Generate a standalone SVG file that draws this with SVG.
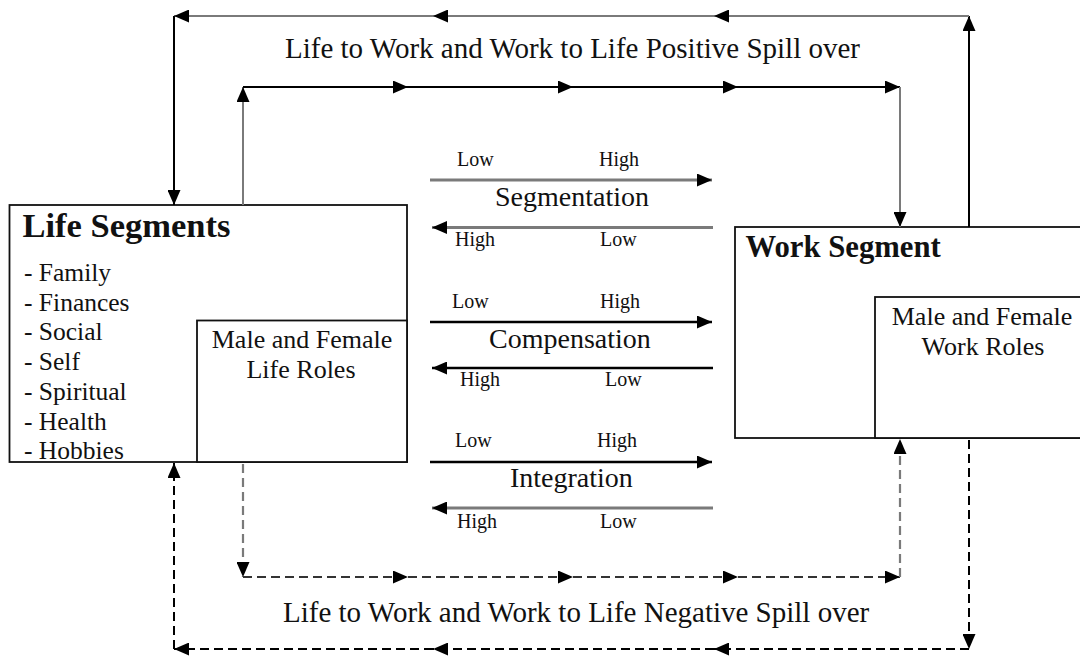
<svg xmlns="http://www.w3.org/2000/svg" width="1080" height="656" viewBox="0 0 1080 656">
<style>
text{font-family:"Liberation Serif","Times New Roman",serif;fill:#111}
.t28{font-size:28px}
.t29{font-size:29px}
.t26{font-size:26px}
.t25{font-size:25.5px}
.sm{font-size:20px}
.bold{font-weight:bold}
.box{fill:#fff;stroke:#111;stroke-width:1.8}
.k{stroke:#000;stroke-width:2;fill:none}
.g{stroke:#7a7a7a;stroke-width:2;fill:none}
.gk{stroke:#7a7a7a;stroke-width:2.8;fill:none}
.kk{stroke:#000;stroke-width:2.4;fill:none}
.dk{stroke:#000;stroke-width:2;fill:none;stroke-dasharray:9 5}
.dg{stroke:#7a7a7a;stroke-width:2.2;fill:none;stroke-dasharray:9 5}
.dm{stroke:#333;stroke-width:2;fill:none;stroke-dasharray:9 5}
</style>
<defs>
<marker id="ah" markerUnits="userSpaceOnUse" markerWidth="15" markerHeight="13" viewBox="0 0 15 13" refX="15" refY="6.5" orient="auto">
<path d="M0,0 L15,6.5 L0,13 z" fill="#000"/>
</marker>
</defs>
<rect width="1080" height="656" fill="#fff"/>

<g id="life-segments">
<rect class="box" x="9.5" y="205" width="397.5" height="257"/>
<text class="bold" x="22.5" y="236.5" style="font-size:34.5px">Life Segments</text>
<text class="t25" x="24" y="281">- Family</text>
<text class="t25" x="24" y="310.7">- Finances</text>
<text class="t25" x="24" y="340.4">- Social</text>
<text class="t25" x="24" y="370.1">- Self</text>
<text class="t25" x="24" y="399.8">- Spiritual</text>
<text class="t25" x="24" y="429.5">- Health</text>
<text class="t25" x="24" y="459.2">- Hobbies</text>
</g>
<g id="life-roles">
<rect class="box" x="197" y="320.5" width="210" height="141.5"/>
<text class="t26" x="302" y="348" text-anchor="middle">Male and Female</text>
<text class="t26" x="301" y="378" text-anchor="middle">Life Roles</text>
</g>

<g id="work-segment">
<rect class="box" x="735" y="227" width="350" height="211"/>
<text class="bold" x="745.5" y="256.5" style="font-size:30.7px">Work Segment</text>
</g>
<g id="work-roles">
<rect class="box" x="875" y="297" width="210" height="141"/>
<text class="t26" x="982" y="325" text-anchor="middle">Male and Female</text>
<text class="t26" x="983" y="355" text-anchor="middle">Work Roles</text>
</g>

<g id="segmentation">
<text class="sm" x="457" y="166">Low</text>
<text class="sm" x="599" y="166">High</text>
<text class="t28" x="495" y="206">Segmentation</text>
<text class="sm" x="455" y="246">High</text>
<text class="sm" x="600" y="246">Low</text>
</g>
<g id="compensation">
<text class="sm" x="452" y="308">Low</text>
<text class="sm" x="600" y="308">High</text>
<text class="t28" x="489" y="348">Compensation</text>
<text class="sm" x="460" y="386">High</text>
<text class="sm" x="605" y="386">Low</text>
</g>
<g id="integration">
<text class="sm" x="455" y="447">Low</text>
<text class="sm" x="597" y="447">High</text>
<text class="t28" x="510" y="487">Integration</text>
<text class="sm" x="457" y="528">High</text>
<text class="sm" x="600" y="528">Low</text>
</g>

<g id="positive-label">
<text class="t29" x="285" y="57.5">Life to Work and Work to Life Positive Spill over</text>
</g>
<g id="negative-label">
<text class="t29" x="283" y="621.5">Life to Work and Work to Life Negative Spill over</text>
</g>

<g id="connectors">
<!-- middle scales -->
<line class="gk" x1="430" y1="180" x2="712" y2="180" marker-end="url(#ah)"/>
<line class="gk" x1="713" y1="227.5" x2="432" y2="227.5" marker-end="url(#ah)"/>
<line class="kk" x1="430" y1="322" x2="712" y2="322" marker-end="url(#ah)"/>
<line class="kk" x1="713" y1="368" x2="432" y2="368" marker-end="url(#ah)"/>
<line class="kk" x1="430" y1="462" x2="712" y2="462" marker-end="url(#ah)"/>
<line class="gk" x1="713" y1="508" x2="432" y2="508" marker-end="url(#ah)"/>

<!-- positive outer loop: work to life -->
<line class="k" x1="969" y1="227" x2="969" y2="16" marker-end="url(#ah)"/>
<line class="g" x1="969" y1="16" x2="714" y2="16" marker-end="url(#ah)"/>
<line class="g" x1="714" y1="16" x2="433" y2="16" marker-end="url(#ah)"/>
<line class="g" x1="433" y1="16" x2="174" y2="16" marker-end="url(#ah)"/>
<line class="k" x1="174" y1="16" x2="174" y2="205" marker-end="url(#ah)"/>

<!-- positive inner loop: life to work -->
<line class="g" x1="243" y1="205" x2="243" y2="87" marker-end="url(#ah)"/>
<line class="k" x1="243" y1="87" x2="408" y2="87" marker-end="url(#ah)"/>
<line class="k" x1="408" y1="87" x2="573" y2="87" marker-end="url(#ah)"/>
<line class="k" x1="573" y1="87" x2="738" y2="87" marker-end="url(#ah)"/>
<line class="k" x1="738" y1="87" x2="900" y2="87" marker-end="url(#ah)"/>
<line class="g" x1="900" y1="87" x2="900" y2="227" marker-end="url(#ah)"/>

<!-- negative inner loop: life to work -->
<line class="dg" x1="243" y1="464" x2="243" y2="577" marker-end="url(#ah)"/>
<line class="dm" x1="243" y1="577" x2="408" y2="577" marker-end="url(#ah)"/>
<line class="dm" x1="408" y1="577" x2="573" y2="577" marker-end="url(#ah)"/>
<line class="dm" x1="573" y1="577" x2="738" y2="577" marker-end="url(#ah)"/>
<line class="dm" x1="738" y1="577" x2="900" y2="577" marker-end="url(#ah)"/>
<line class="dg" x1="900" y1="577" x2="900" y2="439" marker-end="url(#ah)"/>

<!-- negative outer loop: work to life -->
<line class="dk" x1="969" y1="440" x2="969" y2="649" marker-end="url(#ah)"/>
<line class="dk" x1="969" y1="649" x2="714" y2="649" marker-end="url(#ah)"/>
<line class="dk" x1="714" y1="649" x2="433" y2="649" marker-end="url(#ah)"/>
<line class="dk" x1="433" y1="649" x2="174" y2="649" marker-end="url(#ah)"/>
<line class="dk" x1="174" y1="649" x2="174" y2="463" marker-end="url(#ah)"/>
</g>
</svg>
